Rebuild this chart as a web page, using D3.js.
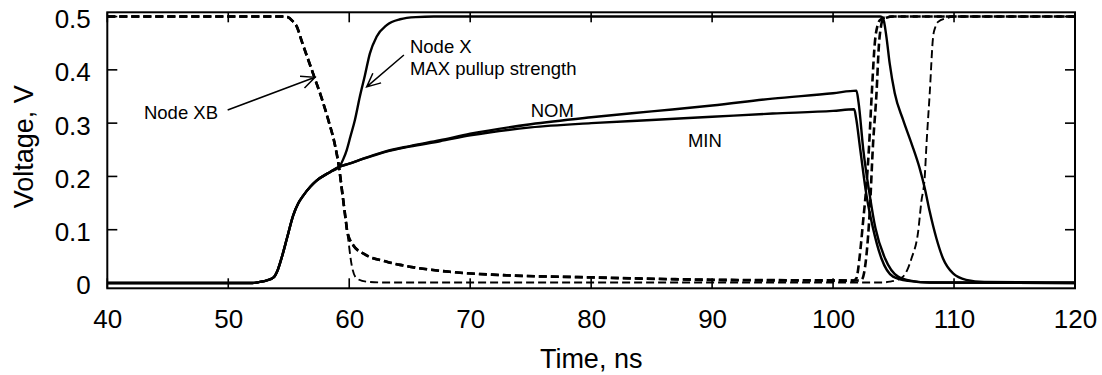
<!DOCTYPE html>
<html>
<head>
<meta charset="utf-8">
<script src="https://cdn.jsdelivr.net/npm/d3@7"></script>
<style>
  html, body { margin: 0; padding: 0; background: #fff; }
  svg { display: block; font-family: "Liberation Sans", Arial, Helvetica, sans-serif; }
</style>
</head>
<body>
<svg id="chart" width="1102" height="375"></svg>
<script>
// ---------- data ----------
const timeTicks = [40, 50, 60, 70, 80, 90, 100, 110, 120];
const voltTicks = [0, 0.1, 0.2, 0.3, 0.4, 0.5];
const voltTickLabels = ["0", "0.1", "0.2", "0.3", "0.4", "0.5"];
const xTitle = "Time, ns";
const yTitle = "Voltage, V";

// Node X, MAX pullup strength (solid)
const nodeXMax = [[40,0],[52,0],[52.6,0.002],[53.2,0.005],[53.72,0.01],[54.1,0.025],[54.41,0.047],[54.83,0.082],[55.37,0.127],[55.8,0.15],[56.2,0.164],[56.8,0.181],[57.3,0.192],[58.4,0.208],[59.17,0.218],
  [59.5,0.232],[59.8,0.25],[60.1,0.275],[60.47,0.306],[60.88,0.35],[61.3,0.39],[61.71,0.431],[62.26,0.462],[63.1,0.484],[64.2,0.495],[65.5,0.499],[67,0.5],
  [103.9,0.5],[104.13,0.497],[104.41,0.462],[104.68,0.412],[105.1,0.356],[105.79,0.306],[106.48,0.262],[107.16,0.215],[107.58,0.178],[107.99,0.134],[108.54,0.084],[109.09,0.046],[109.92,0.018],[111,0.006],[112.5,0.002],[120,0.001]];

// Node X, NOM (solid)
const nodeXNom = [[40,0],[52,0],[52.6,0.002],[53.2,0.005],[53.72,0.01],[54.1,0.025],[54.41,0.047],[54.83,0.082],[55.37,0.127],[55.8,0.15],[56.2,0.164],[56.8,0.181],[57.3,0.192],[58.4,0.208],[59.17,0.218],
  [60,0.224],[61,0.232],[62,0.24],[63,0.247],[65,0.257],[67.5,0.268],[70,0.28],[75,0.298],[80,0.311],[85,0.322],[90,0.333],[95,0.346],[100,0.356],[101.93,0.361],
  [102.1,0.34],[102.5,0.25],[103.03,0.165],[103.5,0.103],[104.3,0.046],[105.37,0.012],[106.5,0.004],[108,0.001],[120,0]];

// Node X, MIN (solid)
const nodeXMin = [[40,0],[52,0],[52.6,0.002],[53.2,0.005],[53.72,0.01],[54.1,0.025],[54.41,0.047],[54.83,0.082],[55.37,0.127],[55.8,0.15],[56.2,0.164],[56.8,0.181],[57.3,0.192],[58.4,0.208],[59.17,0.218],
  [60,0.224],[61,0.232],[62,0.239],[63,0.246],[65,0.256],[67.5,0.266],[70,0.277],[75,0.292],[80,0.3],[85,0.306],[90,0.312],[95,0.318],[100,0.323],[101.75,0.326],
  [101.9,0.31],[102.25,0.25],[102.76,0.165],[103.3,0.103],[104,0.046],[104.96,0.012],[106.2,0.004],[108,0.001],[120,0]];

// Node XB, MAX pullup strength (dashed)
const nodeXBMax = [[40,0.5],[54.6,0.5],[54.9,0.499],[55.3,0.492],[55.65,0.482],[56.1,0.452],[56.75,0.41],[57.17,0.383],[57.72,0.347],[58.27,0.306],[58.82,0.259],[59.15,0.218],[59.45,0.165],[59.73,0.115],[59.9,0.085],[60.2,0.034],[60.6,0.009],[61.4,0.0025],[63,0.001],
  [104,0.001],[104.68,0.0025],[105.3,0.006],[105.79,0.012],[106.2,0.028],[106.48,0.046],[107.03,0.096],[107.3,0.153],[107.58,0.2],[107.72,0.259],[107.99,0.356],[108.27,0.462],[108.45,0.48],[108.68,0.49],[109.37,0.497],[110,0.5],[120,0.5]];

// Node XB, NOM (dashed)
const nodeXBNom = [[40,0.5],[54.6,0.5],[54.9,0.499],[55.3,0.492],[55.65,0.482],[56.1,0.452],[56.75,0.41],[57.17,0.383],[57.72,0.347],[58.27,0.306],[58.82,0.259],[59.15,0.218],[59.45,0.165],[59.73,0.115],[59.84,0.096],
  [60.33,0.071],[61.4,0.0525],[63.1,0.04],[64.2,0.034],[65,0.0306],[68.3,0.021],[72.45,0.015],[80,0.0107],[90,0.0062],[97,0.0052],[102,0.0048],
  [102.35,0.006],[102.76,0.0525],[103.03,0.134],[103.3,0.259],[103.59,0.356],[103.8,0.45],[103.95,0.48],[104.08,0.493],[104.4,0.498],[105,0.5],[120,0.5]];

// Node XB, MIN (dashed)
const nodeXBMin = [[40,0.5],[54.6,0.5],[54.9,0.499],[55.3,0.492],[55.65,0.482],[56.1,0.452],[56.75,0.41],[57.17,0.383],[57.72,0.347],[58.27,0.306],[58.82,0.259],[59.15,0.218],[59.45,0.165],[59.73,0.115],[59.84,0.096],
  [60.33,0.071],[61.4,0.0525],[63.1,0.04],[64.2,0.034],[65,0.0306],[68.3,0.021],[72.45,0.015],[80,0.0104],[90,0.0057],[97,0.0047],[101.7,0.0045],
  [101.93,0.009],[102.2,0.05],[102.48,0.115],[102.76,0.184],[102.98,0.259],[103.2,0.356],[103.45,0.45],[103.7,0.485],[103.86,0.493],[104.2,0.498],[104.8,0.5],[120,0.5]];

// annotations: text labels (data coordinates)
const textLabels = [
  { text: "Node XB", t: 43.03, v: 0.307, anchor: "start" },
  { text: "Node X", t: 65.02, v: 0.431, anchor: "start" },
  { text: "MAX pullup strength", t: 65.02, v: 0.390, anchor: "start" },
  { text: "NOM", t: 76.79, v: 0.312, anchor: "middle" },
  { text: "MIN", t: 89.4, v: 0.2557, anchor: "middle" }
];
// arrows: from (t0,v0) to tip (t1,v1)
const arrows = [
  { t0: 49.95, v0: 0.3246, t1: 57.17, v1: 0.386 },
  { t0: 64.52, v0: 0.4278, t1: 61.44, v1: 0.368 }
];

// ---------- layout ----------
const svg = d3.select("#chart");
const pL = 107.3, pR = 1075, pT = 12.3, pB = 288.3;
const x = d3.scaleLinear().domain([40, 120]).range([pL, pR]);
const y = d3.scaleLinear().domain([-0.00994, 0.508]).range([pB, pT]);

const tickLen = 10;
const tickFont = 26;

const axBottom = d3.axisBottom(x).tickValues(timeTicks).tickSize(0).tickPadding(21).tickFormat(d3.format("d"));
const axLeft = d3.axisLeft(y).tickValues(voltTicks).tickSize(0).tickPadding(16.5).tickFormat((d, i) => voltTickLabels[i]);

function styleAxis(g) {
  g.select(".domain").remove();
  g.selectAll(".tick line").remove();
  g.selectAll(".tick text").attr("fill", "#000").attr("font-size", tickFont).attr("font-family", "Liberation Sans, Arial, sans-serif");
}
svg.append("g").attr("transform", `translate(0,${pB})`).call(axBottom).call(styleAxis)
  .selectAll(".tick text").attr("dy", "0.71em");
svg.append("g").attr("transform", `translate(${pL},0)`).call(axLeft).call(styleAxis)
  .selectAll(".tick text").attr("dy", "0.42em");

// curves
const line = d3.line().x(d => x(d[0])).y(d => y(d[1])).curve(d3.curveMonotoneX);
const plot = svg.append("g");
const series = [
  { data: nodeXBMax, dash: "8,4", w: 1.9 },
  { data: nodeXBNom, dash: "8,4", w: 2.6 },
  { data: nodeXBMin, dash: "8,4", w: 2.6 },
  { data: nodeXMin, dash: null, w: 2.4 },
  { data: nodeXNom, dash: null, w: 2.4 },
  { data: nodeXMax, dash: null, w: 2.4 }
];
series.forEach(s => {
  plot.append("path").attr("d", line(s.data)).attr("fill", "none").attr("stroke", "#000")
    .attr("stroke-width", s.w).attr("stroke-dasharray", s.dash)
    .attr("stroke-linejoin", "round");
});

// frame
svg.append("rect").attr("x", pL).attr("y", pT).attr("width", pR - pL).attr("height", pB - pT)
  .attr("fill", "none").attr("stroke", "#000").attr("stroke-width", 2);

// inward tick marks on all four sides
const tickG = svg.append("g").attr("fill", "#000");
timeTicks.forEach(t => {
  tickG.append("rect").attr("x", x(t) - 0.8).attr("y", pB - tickLen).attr("width", 1.6).attr("height", tickLen);
  tickG.append("rect").attr("x", x(t) - 0.8).attr("y", pT).attr("width", 1.6).attr("height", tickLen);
});
voltTicks.forEach(v => {
  tickG.append("rect").attr("x", pL).attr("y", y(v) - 0.8).attr("width", tickLen).attr("height", 1.6);
  tickG.append("rect").attr("x", pR - tickLen).attr("y", y(v) - 0.8).attr("width", tickLen).attr("height", 1.6);
});

// annotations
const ann = svg.append("g");
textLabels.forEach(l => {
  ann.append("text").attr("x", x(l.t)).attr("y", y(l.v)).attr("text-anchor", l.anchor)
    .attr("font-size", 18.5).attr("fill", "#000").text(l.text);
});
arrows.forEach(a => {
  const x0 = x(a.t0), y0 = y(a.v0), x1 = x(a.t1), y1 = y(a.v1);
  const ang = Math.atan2(y1 - y0, x1 - x0);
  const L = 15, half = 25 * Math.PI / 180;
  const w1 = [x1 - L * Math.cos(ang - half), y1 - L * Math.sin(ang - half)];
  const w2 = [x1 - L * Math.cos(ang + half), y1 - L * Math.sin(ang + half)];
  ann.append("path").attr("d", `M${x0},${y0}L${x1},${y1}M${w1[0]},${w1[1]}L${x1},${y1}L${w2[0]},${w2[1]}`)
    .attr("fill", "none").attr("stroke", "#000").attr("stroke-width", 1.5);
});

// axis titles
svg.append("text").attr("x", (pL + pR) / 2).attr("y", 368.3).attr("text-anchor", "middle")
  .attr("font-size", 27).attr("fill", "#000").text(xTitle);
svg.append("text").attr("transform", `translate(33.3,146.7) rotate(-90)`).attr("text-anchor", "middle")
  .attr("font-size", 27).attr("fill", "#000").text(yTitle);
</script>
</body>
</html>
